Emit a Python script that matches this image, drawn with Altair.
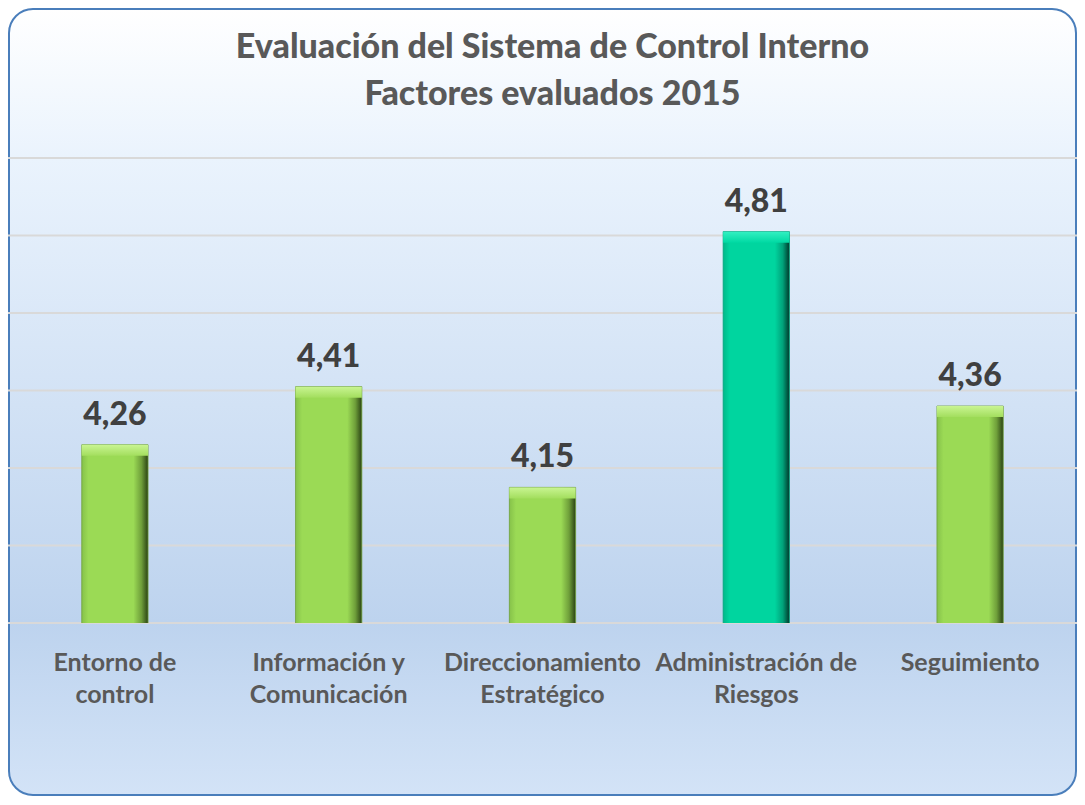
import altair as alt
import pandas as pd

# ---- data ----
factors = ["Entorno de|control", "Información y|Comunicación", "Direccionamiento|Estratégico",
           "Administración de|Riesgos", "Seguimiento"]
values = [4.26, 4.41, 4.15, 4.81, 4.36]
highlight = "Administración de|Riesgos"
grid_values = [3.8, 4.0, 4.2, 4.4, 4.6, 4.8, 5.0]
title_lines = ["Evaluación del Sistema de Control Interno", "Factores evaluados 2015"]

df = pd.DataFrame({
    "factor": factors,
    "value": values,
    "label": [f"{v:.2f}".replace(".", ",") for v in values],
})
grid_df = pd.DataFrame({"g": grid_values})
bg_df = pd.DataFrame({"k": [0]})

W, H = 1069, 465
PAD_TOP, PAD_BOTTOM = 150, 174
FONT = "Lato"

x = alt.X("factor:N", sort=factors,
          scale=alt.Scale(paddingInner=0.69, paddingOuter=0.345),
          axis=alt.Axis(title=None, labelExpr="split(datum.label, '|')", labelAngle=0,
                        labelFont=FONT, labelFontWeight="bold", labelFontSize=25,
                        labelColor="#595959", labelPadding=27, labelLineHeight=32,
                        labelBaseline="top",
                        ticks=False, domain=False, labelLimit=400, zindex=1))
yscale = alt.Scale(domain=[3.8, 5.0], nice=False, zero=False)
y = alt.Y("value:Q", scale=yscale, axis=None)


def hgrad(edge, main, dark, darkest):
    return alt.Gradient(gradient="linear", x1=0, x2=1, y1=0, y2=0, stops=[
        alt.GradientStop(color=edge, offset=0),
        alt.GradientStop(color=main, offset=0.1),
        alt.GradientStop(color=main, offset=0.78),
        alt.GradientStop(color=dark, offset=0.9),
        alt.GradientStop(color=darkest, offset=1),
    ])


def vgrad(c1, c2):
    return alt.Gradient(gradient="linear", x1=0, x2=0, y1=0, y2=1, stops=[
        alt.GradientStop(color=c1, offset=0),
        alt.GradientStop(color=c2, offset=1),
    ])


background = alt.Chart(bg_df).mark_rect(
    fill=alt.Gradient(gradient="linear", x1=0, x2=0, y1=0, y2=1, stops=[
        alt.GradientStop(color="#ffffff", offset=0),
        alt.GradientStop(color="#eaf3fd", offset=0.19),
        alt.GradientStop(color="#bdd3ee", offset=0.78),
        alt.GradientStop(color="#d3e3f7", offset=1),
    ]),
    stroke="#4a7ebb", strokeWidth=2, cornerRadius=24,
).encode(x=alt.value(1), x2=alt.value(W - 1), y=alt.value(-PAD_TOP + 1),
         y2=alt.value(H + PAD_BOTTOM - 2))

grid = alt.Chart(grid_df).mark_rule(color="#d9d9d9", strokeWidth=2).encode(
    y=alt.Y("g:Q", scale=yscale, axis=None))

base = alt.Chart(df)
is_hl = f"datum.factor == '{highlight}'"
not_hl = f"datum.factor != '{highlight}'"

green_bar = base.transform_filter(not_hl).mark_bar(
    clip=True, fill=hgrad("#86c24a", "#9bda55", "#6f9f3a", "#2a4214"),
    stroke="#6f9f3a", strokeWidth=0.8
).encode(x=x, y=y)
teal_bar = base.transform_filter(is_hl).mark_bar(
    clip=True, fill=hgrad("#00b98a", "#00d59f", "#00a27a", "#00382a"),
    stroke="#00a27a", strokeWidth=0.8
).encode(x=x, y=y)

green_cap = base.transform_filter(not_hl).mark_bar(
    fill=vgrad("#c9f592", "#a3de5e"), y2Offset=11
).encode(x=x, y=y, y2=alt.Y2("value:Q"))
teal_cap = base.transform_filter(is_hl).mark_bar(
    fill=vgrad("#33f0c2", "#00d9a3"), y2Offset=11
).encode(x=x, y=y, y2=alt.Y2("value:Q"))

labels = base.mark_text(font=FONT, fontWeight=900, fontSize=32, color="#404040",
                        baseline="alphabetic", dy=-20).encode(x=x, y=y, text="label:N")

chart = alt.layer(
    background, grid, green_bar, teal_bar, green_cap, teal_cap, labels
).properties(
    width=W, height=H,
    title=alt.TitleParams(text=title_lines, font=FONT, fontWeight=900, fontSize=34,
                          color="#595959", lineHeight=47, anchor="middle", offset=55,
                          baseline="bottom", frame="group", dx=10, dy=193, zindex=1),
    padding={"left": 0, "right": 0, "top": PAD_TOP, "bottom": PAD_BOTTOM},
    autosize=alt.AutoSizeParams(type="none"),
).configure_view(stroke=None)

chart.save("out.html", embed_options={"renderer": "svg", "actions": False})
